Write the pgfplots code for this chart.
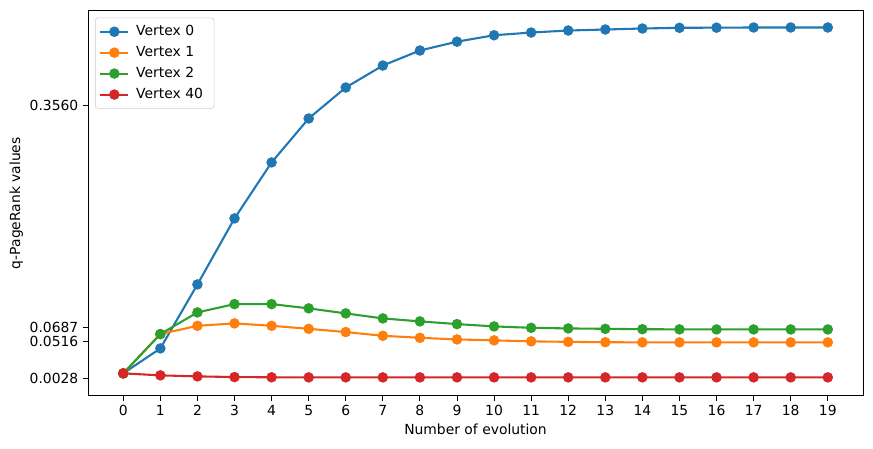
\documentclass[border=0pt]{standalone}
\usepackage{pgfplots}
\pgfplotsset{compat=1.18}
\usepackage{fontspec}
\setmainfont{DejaVu Sans}
\definecolor{c0}{HTML}{1F77B4}
\definecolor{c1}{HTML}{FF7F0E}
\definecolor{c2}{HTML}{2CA02C}
\definecolor{c3}{HTML}{D62728}
\begin{document}
\begin{tikzpicture}
\begin{axis}[
  scale only axis,
  width=558pt, height=277.2pt,
  xmin=-0.95, xmax=19.95,
  ymin=-0.019, ymax=0.478,
  xtick={0,1,...,19},
  ytick={0.0028,0.0516,0.0687,0.3560},
  yticklabels={0.0028,0.0516,0.0687,0.3560},
  /pgf/number format/assume math mode=true,
  tick align=outside,
  tick pos=left,
  major tick length=3.5pt,
  tick style={black, line width=0.6pt},
  axis line style={line width=0.6pt},
  ticklabel style={font=\fontsize{10}{12}\selectfont},
  label style={font=\fontsize{10}{12}\selectfont},
  xlabel={Number of evolution},
  ylabel={q-PageRank values},
  xlabel style={yshift=1pt},
  ylabel style={yshift=-2pt},
  legend style={at={(0,1)}, anchor=north west, xshift=5pt, yshift=-5pt,
    draw=gray!40, rounded corners=2pt, font=\fontsize{10}{12}\selectfont,
    row sep=2.2pt, inner xsep=3pt, inner ysep=3.5pt,
    nodes={inner xsep=5pt}},
  legend cell align=left,
  legend image code/.code={%
    \draw[mark repeat=2,mark phase=2] plot coordinates {(0pt,0pt)(10pt,0pt)(20pt,0pt)};},
  every axis plot/.append style={line width=1.5pt, mark=*, mark size=3pt},
]
\addplot[c0, mark options={fill=c0, draw=c0}] coordinates {
(0,0.0098)(1,0.0420)(2,0.1246)(3,0.2098)(4,0.2821)(5,0.3388)(6,0.3788)(7,0.4072)(8,0.4266)(9,0.4380)
(10,0.4463)(11,0.4498)(12,0.4524)(13,0.4537)(14,0.4550)(15,0.4559)(16,0.4561)(17,0.4563)(18,0.4563)(19,0.4563)};
\addlegendentry{Vertex 0}
\addplot[c1, mark options={fill=c1, draw=c1}] coordinates {
(0,0.0098)(1,0.0605)(2,0.0712)(3,0.0743)(4,0.0712)(5,0.0673)(6,0.0631)(7,0.0583)(8,0.0557)(9,0.0536)
(10,0.0524)(11,0.0511)(12,0.0505)(13,0.0500)(14,0.0498)(15,0.0498)(16,0.0498)(17,0.0498)(18,0.0498)(19,0.0498)};
\addlegendentry{Vertex 1}
\addplot[c2, mark options={fill=c2, draw=c2}] coordinates {
(0,0.0098)(1,0.0605)(2,0.0885)(3,0.0992)(4,0.0992)(5,0.0937)(6,0.0872)(7,0.0807)(8,0.0769)(9,0.0734)
(10,0.0704)(11,0.0686)(12,0.0678)(13,0.0673)(14,0.0668)(15,0.0666)(16,0.0665)(17,0.0665)(18,0.0665)(19,0.0665)};
\addlegendentry{Vertex 2}
\addplot[c3, mark options={fill=c3, draw=c3}] coordinates {
(0,0.0098)(1,0.0072)(2,0.0059)(3,0.0050)(4,0.0047)(5,0.0046)(6,0.0046)(7,0.0046)(8,0.0046)(9,0.0046)
(10,0.0046)(11,0.0046)(12,0.0046)(13,0.0046)(14,0.0046)(15,0.0046)(16,0.0046)(17,0.0046)(18,0.0046)(19,0.0046)};
\addlegendentry{Vertex 40}
\end{axis}
\path ([shift={(-63.4pt,-37.7pt)}]current axis.south west) rectangle ([shift={(7.2pt,7.7pt)}]current axis.north east);
\end{tikzpicture}
\end{document}
